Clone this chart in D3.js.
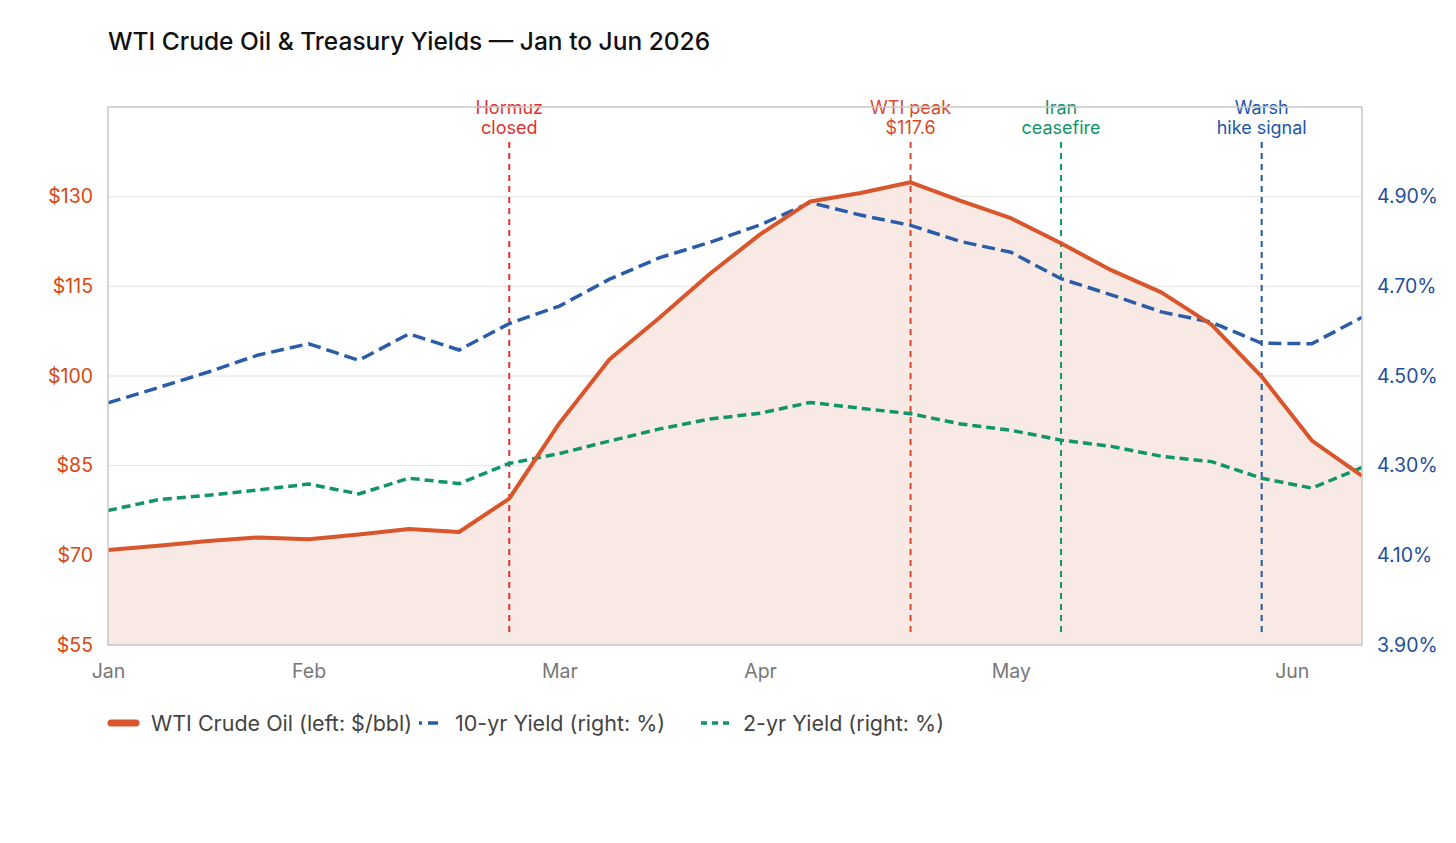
<!DOCTYPE html>
<meta charset="utf-8">
<style>
body { margin: 0; background: #fff; }
svg text { font-family: Inter, "Liberation Sans", Arial, sans-serif; }
</style>
<script src="https://d3js.org/d3.v7.min.js"></script>
<div id="chart"></div>
<script>
// weekly points, Jan -> Jun 2026
var weeks = d3.range(26);
var wti = [70.9, 71.6, 72.4, 73.0, 72.7, 73.5, 74.4, 73.9, 79.5, 92.1, 102.8, 109.8, 117.1, 123.7, 129.2, 130.6, 132.4, 129.3, 126.4, 122.2, 117.7, 114.0, 108.6, 99.9, 89.2, 83.3];
var y10 = [4.44, 4.474, 4.509, 4.547, 4.572, 4.535, 4.594, 4.558, 4.617, 4.656, 4.716, 4.764, 4.798, 4.837, 4.887, 4.859, 4.836, 4.80, 4.776, 4.717, 4.681, 4.643, 4.62, 4.573, 4.572, 4.631];
var y2 = [4.20, 4.224, 4.234, 4.246, 4.259, 4.237, 4.272, 4.26, 4.305, 4.327, 4.355, 4.382, 4.404, 4.417, 4.441, 4.428, 4.416, 4.393, 4.379, 4.357, 4.343, 4.321, 4.309, 4.272, 4.25, 4.296];

var monthLabels = ["Jan", "Feb", "Mar", "Apr", "May", "Jun"];
var monthIdx = [0, 4, 9, 13, 18, 23.6];
var leftTicks = [55, 70, 85, 100, 115, 130];
var rightTicks = [3.9, 4.1, 4.3, 4.5, 4.7, 4.9];

var events = [
  {idx: 8, lines: ["Hormuz", "closed"], color: "#e03131"},
  {idx: 16, lines: ["WTI peak", "$117.6"], color: "#d9482b"},
  {idx: 19, lines: ["Iran", "ceasefire"], color: "#12946b"},
  {idx: 23, lines: ["Warsh", "hike signal"], color: "#2157a8"}
];

var W = 1456, H = 843;
var margin = {top: 107, right: 94, bottom: 198, left: 108};
var width = W - margin.left - margin.right,
    height = H - margin.top - margin.bottom;

var oilColor = "#d9552b", blue = "#2a5ca8", green = "#12946b";

var svg = d3.select("#chart").append("svg")
    .attr("width", W).attr("height", H);

svg.append("text")
  .attr("x", 108).attr("y", 50)
  .style("font-size", "24.5px")
  .style("font-weight", 500)
  .attr("fill", "#111")
  .text("WTI Crude Oil & Treasury Yields \u2014 Jan to Jun 2026");

var g = svg.append("g")
  .attr("transform", "translate(" + margin.left + "," + margin.top + ")");

var x = d3.scaleLinear().domain([0, 25]).range([0, width]);
var yL = d3.scaleLinear().domain([55, 145]).range([height, 0]);
var yR = d3.scaleLinear().domain([3.9, 5.1]).range([height, 0]);

// grid
g.append("g").selectAll("line")
  .data(leftTicks).enter().append("line")
    .attr("x1", 0).attr("x2", width)
    .attr("y1", function(d) { return yL(d); })
    .attr("y2", function(d) { return yL(d); })
    .attr("stroke", "#e2e2e2").attr("stroke-width", 1);

var tickFont = "Inter, Liberation Sans, Arial, sans-serif";

// left axis
var axL = g.append("g")
  .call(d3.axisLeft(yL).tickValues(leftTicks).tickSize(0).tickPadding(15)
    .tickFormat(function(d) { return "$" + d; }));
axL.select(".domain").remove();
axL.selectAll("text").attr("fill", "#d9480f").style("font-size", "19.5px")
  .style("font-family", tickFont);

// right axis
var axR = g.append("g")
  .attr("transform", "translate(" + width + ",0)")
  .call(d3.axisRight(yR).tickValues(rightTicks).tickSize(0).tickPadding(15)
    .tickFormat(function(d) { return d.toFixed(2) + "%"; }));
axR.select(".domain").remove();
axR.selectAll("text").attr("fill", "#1f4e9c").style("font-size", "19.5px")
  .style("font-family", tickFont);

// x axis
var axX = g.append("g")
  .attr("transform", "translate(0," + height + ")")
  .call(d3.axisBottom(x).tickValues(monthIdx).tickSize(0).tickPadding(19)
    .tickFormat(function(d, i) { return monthLabels[i]; }));
axX.select(".domain").remove();
axX.selectAll("text").attr("fill", "#777").style("font-size", "19.5px")
  .style("font-family", tickFont);

// oil area
g.append("path")
  .datum(weeks)
  .attr("fill", "#f9e9e4")
  .attr("d", d3.area()
    .x(function(i) { return x(i); })
    .y0(height)
    .y1(function(i) { return yL(wti[i]); }));

// event markers
var ev = g.append("g").selectAll("g").data(events).enter().append("g");
ev.append("line")
  .attr("x1", function(d) { return x(d.idx); })
  .attr("x2", function(d) { return x(d.idx); })
  .attr("y1", 35).attr("y2", height - 10)
  .attr("stroke", function(d) { return d.color; })
  .attr("stroke-width", 2)
  .attr("stroke-dasharray", "6,5");
ev.each(function(d) {
  var t = d3.select(this).append("text")
    .attr("text-anchor", "middle")
    .attr("fill", d.color)
    .style("font-size", "18px");
  d.lines.forEach(function(s, k) {
    t.append("tspan")
      .attr("x", x(d.idx))
      .attr("y", 7 + k * 20)
      .text(s);
  });
});

var lineOf = function(arr, sc) {
  return d3.line()
    .x(function(i) { return x(i); })
    .y(function(i) { return sc(arr[i]); });
};

g.append("path").datum(weeks)
  .attr("fill", "none").attr("stroke", green)
  .attr("stroke-width", 3.5).attr("stroke-dasharray", "9,5")
  .attr("d", lineOf(y2, yR));

g.append("path").datum(weeks)
  .attr("fill", "none").attr("stroke", blue)
  .attr("stroke-width", 3.5).attr("stroke-dasharray", "13,6")
  .attr("d", lineOf(y10, yR));

g.append("path").datum(weeks)
  .attr("fill", "none").attr("stroke", oilColor)
  .attr("stroke-width", 4).attr("stroke-linejoin", "round")
  .attr("d", lineOf(wti, yL));

// frame
g.append("rect")
  .attr("width", width).attr("height", height)
  .attr("fill", "none").attr("stroke", "#c8c8c8").attr("stroke-width", 1.5);

// legend
var legend = [
  {label: "WTI Crude Oil (left: $/bbl)", color: oilColor, dash: null, x0: 108, x1: 136, tx: 151},
  {label: "10-yr Yield (right: %)", color: blue, dash: "3,6,10,0", x0: 419, x1: 438, tx: 455},
  {label: "2-yr Yield (right: %)", color: green, dash: "6,5", x0: 701, x1: 730, tx: 743}
];
var lg = svg.append("g").selectAll("g").data(legend).enter().append("g");
lg.append("line")
  .attr("x1", function(d) { return d.x0 + (d.dash ? 0 : 3); })
  .attr("x2", function(d) { return d.x1; })
  .attr("y1", 723).attr("y2", 723)
  .attr("stroke", function(d) { return d.color; })
  .attr("stroke-width", function(d) { return d.dash ? 3.5 : 7; })
  .attr("stroke-linecap", function(d) { return d.dash ? "butt" : "round"; })
  .attr("stroke-dasharray", function(d) { return d.dash; });
lg.append("text")
  .attr("x", function(d) { return d.tx; })
  .attr("y", 731)
  .attr("fill", "#444")
  .style("font-size", "21.5px")
  .text(function(d) { return d.label; });
</script>
